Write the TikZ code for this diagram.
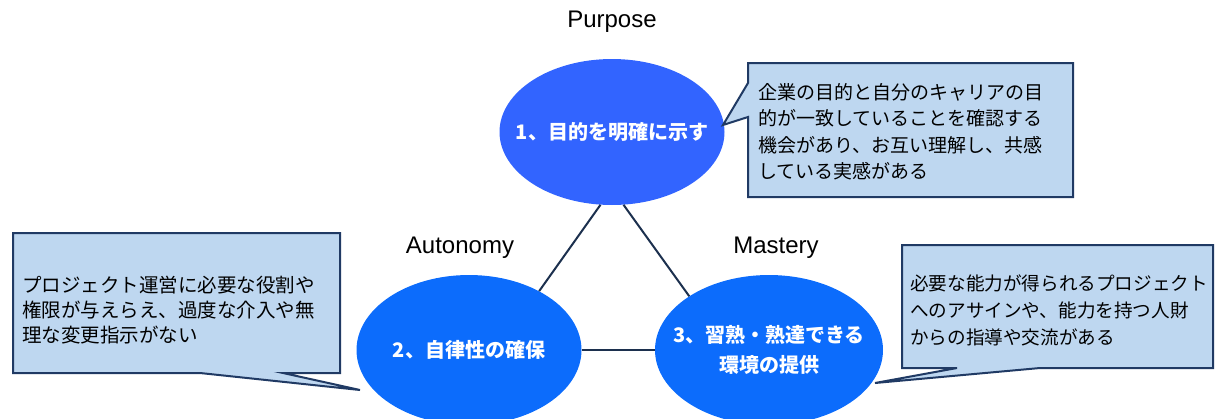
\documentclass[tikz,border=0pt]{standalone}
\usepackage{fontspec}
\usetikzlibrary{shapes.geometric}
\setmainfont{Liberation Sans}
\newfontfamily\jp{Noto Sans CJK JP}
\definecolor{elblue}{RGB}{12,108,252}
\definecolor{elviolet}{RGB}{50,100,255}
\definecolor{cofill}{RGB}{190,215,240}
\definecolor{coline}{RGB}{32,58,100}
\definecolor{edline}{RGB}{28,48,78}
\begin{document}
\begin{tikzpicture}[x=1pt,y=-1pt]
\tikzstyle{el} = [ellipse,fill=elblue,inner sep=0pt] %ellipse
\tikzstyle{et} = [text=white,font=\jp\bfseries\fontsize{20}{30}\selectfont,align=center] %ellipse text
\tikzstyle{co} = [fill=cofill,draw=coline,line width=2pt,line join=miter] %callout box
\tikzstyle{ct} = [inner sep=0pt,anchor=west,align=left] %callout text
\tikzstyle{lb} = [font=\fontsize{24}{28}\selectfont] %label
\tikzstyle{ue} = [-,line width=2pt,draw=edline] %undirected edge
\useasboundingbox (0,0) rectangle (1227,418);
\node[el,fill=elviolet,minimum width=225pt,minimum height=146pt](ep)at(612,132){};
\node[el,minimum width=225pt,minimum height=150pt](ea)at(469,350){};
\node[el,minimum width=228pt,minimum height=150pt](em)at(769,350){};
\node[et](tp)at(ep){1、目的を明確に示す};
\node[et](ta)at(ea){2、自律性の確保};
\node[et](tm)at(em){3、習熟・熟達できる\\環境の提供};
\draw[ue](ep.261)--(ea.40);
\draw[ue](ep.279)--(em.146);
\draw[ue](ea.east)--(em.west);
\node[lb](lp)at(612,22){Purpose};
\node[lb](la)at(460,248){Autonomy};
\node[lb](lm)at(776,248){Mastery};
\draw[co](748,63)--(1073,63)--(1073,197)--(748,197)--(748,117)--(723,125)--(748,83)--cycle;
\draw[co](13,233)--(340,233)--(340,373)--(283,373)--(360,390)--(200,373)--(13,373)--cycle;
\draw[co](902,245)--(1213,245)--(1213,368)--(1040,368)--(875,383)--(957,368)--(902,368)--cycle;
\node[ct,font=\jp\fontsize{19}{26.5}\selectfont](cp)at(758,132){企業の目的と自分のキャリアの目\\的が一致していることを確認する\\機会があり、お互い理解し、共感\\している実感がある};
\node[ct,font=\jp\fontsize{19.5}{25}\selectfont](ca)at(22,310){プロジェクト運営に必要な役割や\\権限が与えらえ、過度な介入や無\\理な変更指示がない};
\node[ct,font=\jp\fontsize{18.6}{27}\selectfont](cm)at(910,310){必要な能力が得られるプロジェクト\\へのアサインや、能力を持つ人財\\からの指導や交流がある};
\end{tikzpicture}
\end{document}
